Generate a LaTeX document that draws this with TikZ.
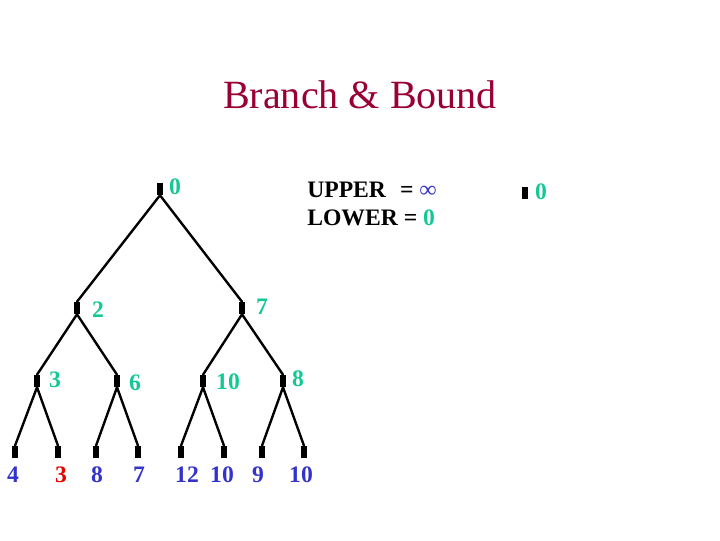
\documentclass[tikz,border=0pt]{standalone}
\usepackage{fontspec}
\setmainfont{Liberation Serif}
\usetikzlibrary{positioning}
\definecolor{bbGreen}{RGB}{20,200,150}
\definecolor{bbBlue}{RGB}{51,51,204}
\definecolor{bbRed}{RGB}{230,0,0}
\definecolor{bbTitle}{RGB}{153,0,51}
\tikzset{
    bbNode/.style={rectangle, fill=black, inner sep=0pt, minimum width=0.15cm, minimum height=0.3cm},
    bbLink/.style={line width=1.7pt, line cap=round},
    bbBound/.style={font=\fontsize{16.8}{19}\selectfont\bfseries, text=bbGreen, inner sep=0pt},
    bbLeaf/.style={font=\fontsize{16.8}{19}\selectfont\bfseries, text=bbBlue, inner sep=0pt},
    bbText/.style={font=\fontsize{16.8}{19}\selectfont\bfseries, inner sep=0pt, anchor=west},
}
\newcommand{\bbEdge}[2]{
    \draw[bbLink] (#1.south) -- (#2.north);
}

\begin{document}
\begin{tikzpicture}[x=0.025cm, y=-0.025cm]
        \useasboundingbox (0,0) rectangle (720,540);

        \node[font=\fontsize{28.5}{33}\selectfont, text=bbTitle] (title) at (360,95) {Branch \& Bound};

        % tree nodes
        \node[bbNode] (r) at (160,189) {};
        \node[bbNode] (a) at (77,308) {};
        \node[bbNode] (b) at (242,308) {};
        \node[bbNode] (aa) at (37,381) {};
        \node[bbNode] (ab) at (117,381) {};
        \node[bbNode] (ba) at (203,381) {};
        \node[bbNode] (bb) at (283,381) {};
        \node[bbNode] (l1) at (15,452) {};
        \node[bbNode] (l2) at (58,452) {};
        \node[bbNode] (l3) at (96,452) {};
        \node[bbNode] (l4) at (138,452) {};
        \node[bbNode] (l5) at (181,452) {};
        \node[bbNode] (l6) at (224,452) {};
        \node[bbNode] (l7) at (262,452) {};
        \node[bbNode] (l8) at (304,452) {};

        \bbEdge{r}{a}
        \bbEdge{r}{b}
        \bbEdge{a}{aa}
        \bbEdge{a}{ab}
        \bbEdge{b}{ba}
        \bbEdge{b}{bb}
        \bbEdge{aa}{l1}
        \bbEdge{aa}{l2}
        \bbEdge{ab}{l3}
        \bbEdge{ab}{l4}
        \bbEdge{ba}{l5}
        \bbEdge{ba}{l6}
        \bbEdge{bb}{l7}
        \bbEdge{bb}{l8}

        % bounds
        \node[bbBound] (rv) at (175,187) {0};
        \node[bbBound] (av) at (98,310) {2};
        \node[bbBound] (bv) at (262,307) {7};
        \node[bbBound] (aav) at (55,380) {3};
        \node[bbBound] (abv) at (135,383) {6};
        \node[bbBound] (bav) at (228,382) {10};
        \node[bbBound] (bbv) at (298,379) {8};

        \node[bbLeaf] (l1v) at (13,475) {4};
        \node[bbLeaf, text=bbRed] (l2v) at (61,475) {3};
        \node[bbLeaf] (l3v) at (97,475) {8};
        \node[bbLeaf] (l4v) at (139,475) {7};
        \node[bbLeaf] (l5v) at (187,475) {12};
        \node[bbLeaf] (l6v) at (222,475) {10};
        \node[bbLeaf] (l7v) at (258,475) {9};
        \node[bbLeaf] (l8v) at (301,475) {10};

        % upper and lower
        \node[bbText] (upper) at (307,190) {UPPER\hspace{0.6em}= \textcolor{bbBlue}{∞}};
        \node[bbText] (lower) at (307,218) {LOWER = \textcolor{bbGreen}{0}};

        \node[bbNode] (q) at (525,193) {};
        \node[bbBound] (qv) at (541,192) {0};

    \end{tikzpicture}
\end{document}
